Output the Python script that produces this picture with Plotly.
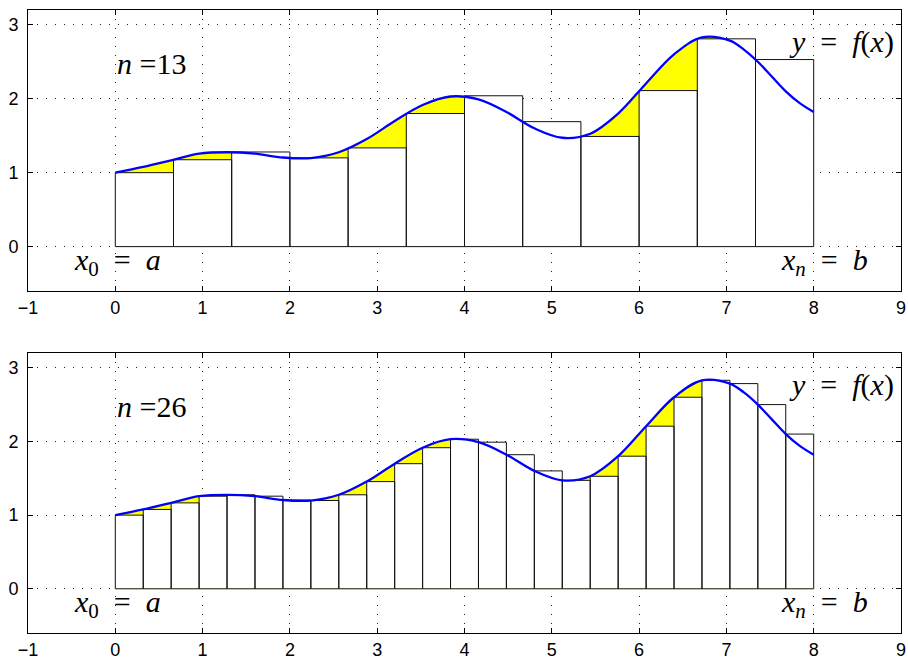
import plotly.graph_objects as go

# interval [a, b]
a, b = 0.0, 8.0

# curve y = f(x)
curve_x = [0.00, 0.32, 0.64, 0.96, 1.28, 1.60, 1.92, 2.24, 2.56, 2.88, 3.20, 3.52, 3.84,
           4.16, 4.48, 4.80, 5.12, 5.44, 5.76, 6.08, 6.40, 6.72, 7.04, 7.20, 7.36, 7.52, 7.68, 7.84, 8.00]
curve_y = [1.000, 1.077, 1.166, 1.257, 1.276, 1.257, 1.205, 1.198, 1.276, 1.455, 1.698, 1.915, 2.030,
           1.990, 1.820, 1.600, 1.472, 1.527, 1.800, 2.207, 2.600, 2.830, 2.785, 2.665, 2.500, 2.300, 2.100, 1.940, 1.820]

# left-endpoint rectangle heights
n_top = 13
heights_top = [1.00, 1.175, 1.28, 1.20, 1.335, 1.80, 2.04, 1.69, 1.49, 2.11, 2.81, 2.53]
n_bot = 26
heights_bot = [1.000, 1.077, 1.166, 1.257, 1.276, 1.257, 1.205, 1.198, 1.276, 1.455, 1.698, 1.915, 2.030,
               1.990, 1.820, 1.600, 1.472, 1.527, 1.800, 2.207, 2.600, 2.830, 2.785, 2.500, 2.100]

x_ticks = [-1, 0, 1, 2, 3, 4, 5, 6, 7, 8, 9]
y_ticks = [0, 1, 2, 3]

fig = go.Figure()


def add_panel(n, heights, xa, ya):
    w = (b - a) / (n - 1)
    # yellow area under curve (covered by white rectangles where below)
    fig.add_trace(go.Scatter(x=curve_x, y=curve_y, mode="lines", line=dict(width=0, shape="spline", color="#ffff00"),
                             fill="tozeroy", fillcolor="#ffff00", xaxis=xa, yaxis=ya, hoverinfo="skip",
                             showlegend=False))
    xs, ys = [], []
    for i, h in enumerate(heights):
        x0 = a + i * w
        x1 = x0 + w
        xs += [x0, x0, x1, x1, x0, None]
        ys += [0, h, h, 0, 0, None]
    fig.add_trace(go.Scatter(x=xs, y=ys, mode="lines", line=dict(color="#111111", width=1),
                             fill="toself", fillcolor="white", xaxis=xa, yaxis=ya, hoverinfo="skip",
                             showlegend=False))
    fig.add_trace(go.Scatter(x=curve_x, y=curve_y, mode="lines",
                             line=dict(color="#0000ff", width=2.3, shape="spline"),
                             xaxis=xa, yaxis=ya, showlegend=False))
    xr = "x" if xa == "x" else "x2"
    yr = "y" if ya == "y" else "y2"
    tfont = dict(family="Liberation Serif", size=30, color="black")
    fig.add_annotation(x=0.0, y=2.48, xref=xr, yref=yr, xanchor="left", yanchor="middle",
                       text="<i>n</i>&nbsp;=%d" % n, showarrow=False, font=tfont)
    fig.add_annotation(x=8.94, y=2.77, xref=xr, yref=yr, xanchor="right", yanchor="middle",
                       text="<i>y</i>&nbsp;&nbsp;=&nbsp;&nbsp;<i>f</i>(<i>x</i>)", showarrow=False, font=tfont)
    fig.add_annotation(x=-0.5, y=-0.21, xref=xr, yref=yr, xanchor="left", yanchor="middle",
                       text="<i>x</i><sub>0</sub>&nbsp;&nbsp;=&nbsp;&nbsp;<i>a</i>", showarrow=False, font=tfont)
    fig.add_annotation(x=7.60, y=-0.21, xref=xr, yref=yr, xanchor="left", yanchor="middle",
                       text="<i>x</i><sub><i>n</i></sub>&nbsp;&nbsp;=&nbsp;&nbsp;<i>b</i>", showarrow=False, font=tfont)


add_panel(n_top, heights_top, "x", "y")
add_panel(n_bot, heights_bot, "x2", "y2")

axis_common = dict(showline=True, linecolor="black", linewidth=1, mirror="ticks", ticks="inside", ticklen=5,
                   tickcolor="black", showgrid=True, gridcolor="#222222", gridwidth=1, griddash="1px,8px",
                   zeroline=False, automargin=False,
                   tickfont=dict(family="Liberation Sans", size=18, color="black"))

fig.update_layout(
    width=908, height=662, margin=dict(l=28, r=7, t=10, b=29),
    paper_bgcolor="white", plot_bgcolor="white", showlegend=False,
    xaxis=dict(domain=[0, 1], range=[-1, 9], tickvals=x_ticks, anchor="y", ticklabelstandoff=0, **axis_common),
    yaxis=dict(domain=[0.549, 1.0], range=[-0.6, 3.2], tickvals=y_ticks, anchor="x", ticklabelstandoff=5, **axis_common),
    xaxis2=dict(domain=[0, 1], range=[-1, 9], tickvals=x_ticks, anchor="y2", ticklabelstandoff=0, **axis_common),
    yaxis2=dict(domain=[0, 0.4494], range=[-0.6, 3.2], tickvals=y_ticks, anchor="x2", ticklabelstandoff=5, **axis_common),
)

fig.write_html("out.html")
